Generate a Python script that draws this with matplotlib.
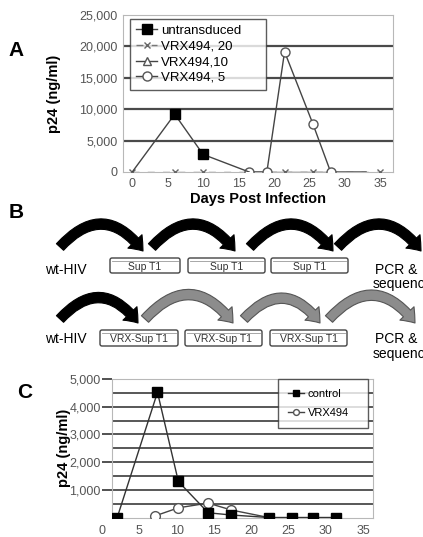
import matplotlib
matplotlib.use("Agg")
import matplotlib.pyplot as plt
from matplotlib.patches import FancyArrowPatch, FancyBboxPatch, ArrowStyle

plt.rcParams["font.family"] = ["Liberation Sans", "DejaVu Sans"]

# panel A data (days post infection, p24 ng/ml)
days_untr = [0, 6, 10, 16.5]
p24_untr = [0, 9200, 2800, 0]
days_v20 = [0, 6, 10, 16.5, 21.5, 25.5, 28, 35]
p24_v20 = [0, 0, 0, 0, 0, 0, 0, 0]
days_v10 = [16.5, 19, 28]
p24_v10 = [0, 0, 0]
days_v5 = [16.5, 19, 21.5, 25.5, 28, 33]
p24_v5 = [0, 0, 19150, 7650, 0, 0]
yticks_a = [0, 5000, 10000, 15000, 20000, 25000]
xticks_days = [0, 5, 10, 15, 20, 25, 30, 35]

# panel C data
days_ctrl = [2, 7.4, 10.2, 14.2, 17.3, 22.3, 25.4, 28.3, 31.4]
p24_ctrl = [0, 4520, 1300, 170, 90, 0, 0, 0, 0]
days_vrx = [7.1, 10.2, 14.2, 17.3, 22.3]
p24_vrx = [60, 350, 520, 270, 0]
yticks_c = [1000, 2000, 3000, 4000, 5000]

# panel B labels
row1_dishes = ["Sup T1", "Sup T1", "Sup T1"]
row2_dishes = ["VRX-Sup T1", "VRX-Sup T1", "VRX-Sup T1"]

W, H = 423, 537
fig = plt.figure(figsize=(W / 100, H / 100), dpi=100)


def fig_axes(l, t, r, b):
    return fig.add_axes([l / W, (H - b) / H, (r - l) / W, (b - t) / H])


grid_col = "#4a4a4a"
frame_col = "#b8b8b8"
tick_col = "#555555"

# ---------- panel A ----------
ax = fig_axes(123, 15, 393, 172)
ax.set_xlim(-1.3, 36.8)
ax.set_ylim(0, 25000)
for y in yticks_a[1:-1]:
    ax.axhline(y, color=grid_col, lw=1.6, zorder=1)
for s in ax.spines.values():
    s.set_color(frame_col)
ax.set_yticks(yticks_a)
ax.set_yticklabels([f"{v:,}" for v in yticks_a])
ax.set_xticks(xticks_days)
ax.tick_params(length=0, labelsize=9, labelcolor=tick_col, pad=4)

ax.plot(days_v20, p24_v20, color="#777777", lw=1, ls=(0, (5, 6)),
        marker="x", ms=5, mew=1, mec="#666666", label="VRX494, 20", zorder=3)
ax.plot(days_v10, p24_v10, color="#444444", lw=1, marker="^", ms=6,
        mfc="white", mec="#555555", label="VRX494,10", zorder=4)
ax.plot(days_v5, p24_v5, color="#444444", lw=1, marker="o", ms=6.5,
        mfc="white", mec="#555555", markevery=slice(0, 5),
        label="VRX494, 5", zorder=5)
ax.plot(days_untr, p24_untr, color="#444444", lw=1, marker="s", ms=6.5,
        mfc="black", mec="black", markevery=[1, 2],
        label="untransduced", zorder=6)

h, l = ax.get_legend_handles_labels()
order = [3, 0, 1, 2]
leg = ax.legend([h[i] for i in order], [l[i] for i in order],
                loc="upper left", bbox_to_anchor=(0.026, 0.3, 0.504, 0.675),
                mode="expand", borderaxespad=0, fontsize=9.5, frameon=True,
                fancybox=False, handlelength=1.6, handletextpad=0.3,
                labelspacing=0.25, borderpad=0.45)
leg.get_frame().set_edgecolor("#333333")
leg.get_frame().set_linewidth(1)

ax.set_ylabel("p24 (ng/ml)", fontsize=10.5, fontweight="bold", labelpad=13)
ax.set_xlabel("Days Post Infection", fontsize=10.5, fontweight="bold", labelpad=2)

# ---------- panel B (diagram) ----------
axb = fig.add_axes([0, 0, 1, 1], zorder=0)
axb.set_xlim(0, W)
axb.set_ylim(H, 0)
axb.axis("off")

arrow_style = ArrowStyle.Simple(head_length=9, head_width=14, tail_width=7)


def arch(x0, y0, x1, y1, fc, ec):
    p = FancyArrowPatch((x0, y0), (x1, y1), arrowstyle=arrow_style,
                        connectionstyle="arc3,rad=-0.6", mutation_scale=1,
                        shrinkA=0, shrinkB=0, fc=fc, ec=ec, lw=0.8)
    axb.add_patch(p)


for x0, x1 in [(60, 143), (152, 235), (250, 333), (338, 421)]:
    arch(x0, 247, x1, 251, "black", "black")
arch(60, 319, 138, 323, "black", "black")
for x0, x1 in [(145, 233), (244, 320), (329, 415)]:
    arch(x0, 319, x1, 323, "#8c8c8c", "#555555")


def dish(x0, x1, y0, y1, label):
    axb.add_patch(FancyBboxPatch((x0, y0), x1 - x0, y1 - y0,
                                 boxstyle="round,pad=0,rounding_size=2",
                                 fc="white", ec="#444444", lw=1))
    axb.plot([x0 + 2, x1 - 2], [y0 + 2.5, y0 + 2.5], color="#999999", lw=0.6)
    axb.text((x0 + x1) / 2, (y0 + y1) / 2 + 1, label, ha="center",
             va="center", fontsize=7.5, color="#333333")


for (x0, x1), lab in zip([(110, 180), (188, 265), (271, 348)], row1_dishes):
    dish(x0, x1, 258, 273, lab)
for (x0, x1), lab in zip([(100, 178), (185, 262), (270, 347)], row2_dishes):
    dish(x0, x1, 330, 346, lab)

for y in (270, 339):
    axb.text(66, y, "wt-HIV", ha="center", va="center", fontsize=10)
# the reference image crops these labels at its right edge
axb.text(375, 270, "PCR &", ha="left", va="center", fontsize=10)
axb.text(373, 284, "sequencing", ha="left", va="center", fontsize=10)
axb.text(375, 339, "PCR &", ha="left", va="center", fontsize=10)
axb.text(373, 354, "sequencing", ha="left", va="center", fontsize=10)

for lab, x, y in [("A", 16, 50), ("B", 16, 212), ("C", 25, 393)]:
    axb.text(x, y, lab, ha="center", va="center", fontsize=15,
             fontweight="bold")

# ---------- panel C ----------
axc = fig_axes(112, 379, 373, 517.5)
axc.set_xlim(1.3, 36.3)
axc.set_ylim(0, 5000)
for y in range(500, 5000, 500):
    axc.axhline(y, color=grid_col, lw=1.3, zorder=1)
for s in axc.spines.values():
    s.set_color(frame_col)
axc.set_xticks([])
axc.set_yticks(yticks_c)
axc.set_yticklabels([f"{v:,}" for v in yticks_c])
axc.tick_params(axis="y", direction="out", length=7, width=1.2,
                color="#333333", labelsize=9, labelcolor=tick_col, pad=1)

axc.plot(days_vrx, p24_vrx, color="#444444", lw=1, marker="o", ms=7,
         mfc="white", mec="#555555", markevery=[0, 1, 2, 3],
         label="VRX494", zorder=3)
axc.plot(days_ctrl, p24_ctrl, color="#333333", lw=1, marker="s", ms=7.5,
         mfc="black", mec="black", label="control", zorder=4)

h, l = axc.get_legend_handles_labels()
legc = axc.legend([h[1], h[0]], [l[1], l[0]], loc="upper left",
                  bbox_to_anchor=(0.636, 0.3, 0.345, 0.7), mode="expand",
                  borderaxespad=0, fontsize=8, frameon=True, fancybox=False,
                  handlelength=1.4, handletextpad=0.4, labelspacing=0.8,
                  borderpad=0.9, markerscale=0.6)
legc.get_frame().set_edgecolor("#333333")
legc.get_frame().set_linewidth(1)
axc.set_ylabel("p24 (ng/ml)", fontsize=10.5, fontweight="bold", labelpad=-1)

# x labels for panel C sit on their own scale below the frame
axx = fig_axes(102, 517.5, 363, 518)
axx.set_xlim(0, 35)
axx.set_xticks(xticks_days)
axx.set_yticks([])
for s in axx.spines.values():
    s.set_visible(False)
axx.patch.set_alpha(0)
axx.tick_params(axis="x", length=0, labelsize=9, labelcolor=tick_col, pad=5)

fig.savefig("out.png", dpi=100)
